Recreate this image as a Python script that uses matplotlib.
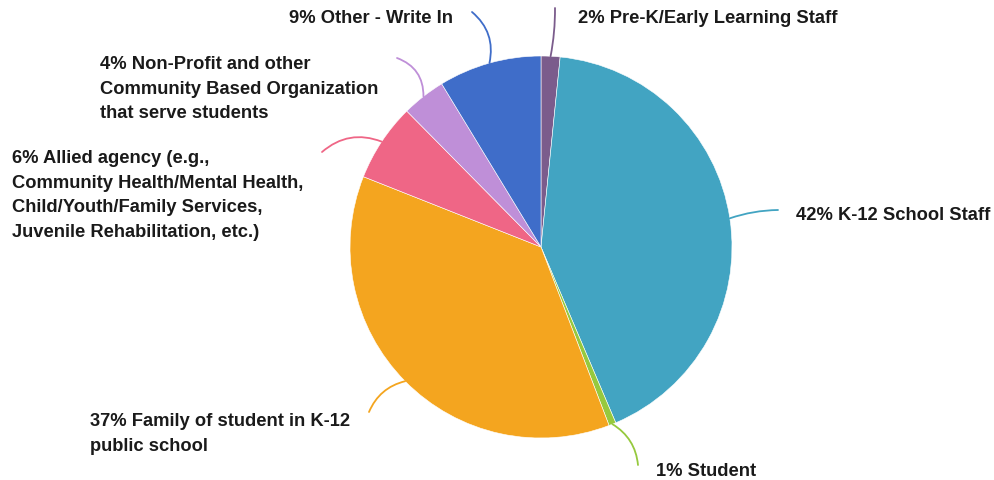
import numpy as np
import matplotlib.pyplot as plt

# slice data, clockwise from 12 o'clock
labels = [
    "2% Pre-K/Early Learning Staff",
    "42% K-12 School Staff",
    "1% Student",
    "37% Family of student in K-12\npublic school",
    "6% Allied agency (e.g.,\nCommunity Health/Mental Health,\nChild/Youth/Family Services,\nJuvenile Rehabilitation, etc.)",
    "4% Non-Profit and other\nCommunity Based Organization\nthat serve students",
    "9% Other - Write In",
]
shares = [1.6, 42.0, 0.6, 36.8, 6.6, 3.7, 8.7]
colors = ["#7B5C8C", "#42A4C2", "#96C93E", "#F4A51F", "#EF6686", "#BF8FD8", "#3F6DC9"]

W, H = 995, 481
cx, cy, r = 541, 248, 191

fig = plt.figure(figsize=(W / 100, H / 100), dpi=100)
ax = fig.add_axes([(cx - r) / W, (H - cy - r) / H, 2 * r / W, 2 * r / H])
wedges, _ = ax.pie(shares, colors=colors, startangle=90, counterclock=False,
                   radius=1, wedgeprops=dict(linewidth=0.4, edgecolor="white"))
ax.set_xlim(-1, 1)
ax.set_ylim(-1, 1)
ax.axis("off")


def px(x, y):
    # pixel position -> data coords of the pie axes
    return ((x - cx) / r, (cy - y) / r)


# leader end point (px), curvature, text anchor (px), alignment
layout = [
    ((555, 9), -0.05, (578, 19), "left"),
    ((778, 211), 0.08, (796, 216), "left"),
    ((638, 466), 0.25, (656, 472), "left"),
    ((369, 413), -0.25, (90, 423), "left"),
    ((322, 153), -0.3, (12, 160), "left"),
    ((397, 59), -0.35, (100, 66), "left"),
    ((472, 13), -0.3, (453, 19), "right"),
]

for w, lab, col, (end, rad, tpos, ha) in zip(wedges, labels, colors, layout):
    mid = np.deg2rad((w.theta1 + w.theta2) / 2)
    anchor = (np.cos(mid), np.sin(mid))
    ax.annotate("", xy=anchor, xytext=px(*end), annotation_clip=False,
                arrowprops=dict(arrowstyle="-", color=col, lw=1.3,
                                shrinkA=0, shrinkB=0,
                                connectionstyle=f"arc3,rad={rad}"))
    tx, ty = px(*tpos)
    if "\n" in lab:
        ty += 10 / r  # top-anchor so first line centres on ty
    ax.text(tx, ty, lab, ha=ha, va="top" if "\n" in lab else "center",
            fontsize=13.2, fontweight="bold", color="#1a1a1a",
            family="Liberation Sans", linespacing=1.58, clip_on=False)

fig.savefig("out.png", dpi=100)
